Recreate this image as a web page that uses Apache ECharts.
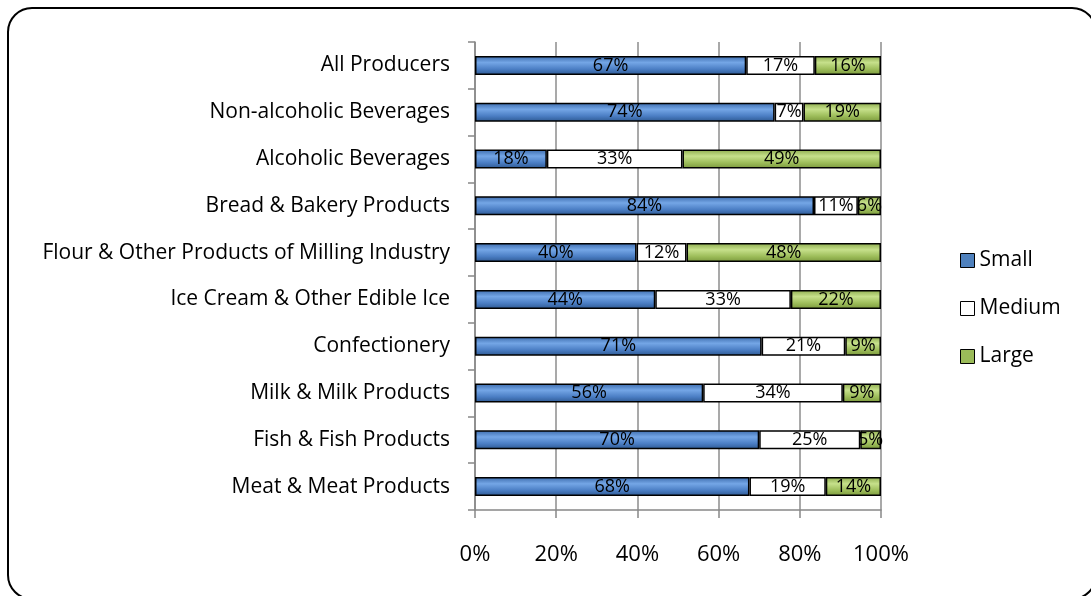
<!DOCTYPE html>
<html>
<head>
<meta charset="utf-8">
<script src="https://cdn.jsdelivr.net/npm/echarts@6/dist/echarts.min.js"></script>
<style>
  html, body { margin: 0; padding: 0; background: #fff; }
  #chart { width: 1091px; height: 596px; }
</style>
</head>
<body>
<div id="chart"></div>
<script>
// Producer groups, top to bottom
const categories = [
  'All Producers',
  'Non-alcoholic Beverages',
  'Alcoholic Beverages',
  'Bread & Bakery Products',
  'Flour & Other Products of Milling Industry',
  'Ice Cream & Other Edible Ice',
  'Confectionery',
  'Milk & Milk Products',
  'Fish & Fish Products',
  'Meat & Meat Products'
];

// Share of producers by size (%)
const small  = [66.8, 73.8, 17.7, 83.5, 39.8, 44.4, 70.6, 56.2, 70.0, 67.6];
const medium = [16.9,  7.1, 33.4, 10.8, 12.3, 33.4, 20.6, 34.4, 24.9, 18.8];
const large  = [16.3, 19.1, 48.9,  5.7, 47.9, 22.2,  8.8,  9.4,  5.1, 13.6];

const xTicks = [0, 20, 40, 60, 80, 100];

const FONT = '"Open Sans", "Noto Sans", sans-serif';

function grad(c0, c1, c2, c3) {
  return new echarts.graphic.LinearGradient(0, 0, 0, 1, [
    { offset: 0, color: c0 },
    { offset: 0.35, color: c1 },
    { offset: 0.7, color: c2 },
    { offset: 1, color: c3 }
  ]);
}

const segLabel = {
  show: true,
  position: 'inside',
  color: '#000',
  fontFamily: FONT,
  fontSize: 18,
  formatter: p => Math.round(p.value) + '%'
};

const chart = echarts.init(document.getElementById('chart'), null, { renderer: 'canvas' });

chart.setOption({
  animation: false,
  backgroundColor: '#fff',
  graphic: [{
    type: 'rect',
    shape: { x: 8, y: 8, width: 1088, height: 591, r: 24 },
    style: { fill: 'none', stroke: '#000', lineWidth: 2 },
    z: 100
  }],
  grid: { left: 475, right: 210, top: 42, bottom: 86, containLabel: false },
  legend: {
    orient: 'vertical',
    left: 955,
    top: 245,
    itemWidth: 14,
    itemHeight: 14,
    itemGap: 27,
    icon: 'rect',
    textStyle: { fontFamily: FONT, fontSize: 21, color: '#000', padding: [0, 0, 0, 0] },
    data: [
      { name: 'Small',  itemStyle: { color: '#4F81BD', borderColor: '#000', borderWidth: 1 } },
      { name: 'Medium', itemStyle: { color: '#FFFFFF', borderColor: '#000', borderWidth: 1 } },
      { name: 'Large',  itemStyle: { color: '#9BBB59', borderColor: '#000', borderWidth: 1 } }
    ]
  },
  xAxis: {
    type: 'value',
    min: 0,
    max: 100,
    interval: 20,
    axisLine: { show: true, lineStyle: { color: '#888', width: 1.5 } },
    axisTick: { show: true, length: 8, lineStyle: { color: '#888', width: 1.5 } },
    splitLine: { show: true, lineStyle: { color: '#8c8c8c', width: 1.5 } },
    axisLabel: {
      margin: 34,
      fontFamily: FONT,
      fontSize: 22,
      color: '#000',
      formatter: v => (xTicks.includes(v) ? v + '%' : '')
    }
  },
  yAxis: {
    type: 'category',
    inverse: true,
    data: categories,
    axisLine: { show: true, lineStyle: { color: '#888', width: 1.5 } },
    axisTick: { show: true, length: 7, alignWithLabel: false, lineStyle: { color: '#888', width: 1.5 } },
    axisLabel: { margin: 25, fontFamily: FONT, fontSize: 21, color: '#000', padding: [5, 0, 0, 0] }
  },
  series: [
    {
      name: 'Small', type: 'bar', stack: 'size', barWidth: 19, data: small,
      itemStyle: { color: grad('#3b6aab', '#74a6e6', '#4b7ec4', '#2d5891'), borderColor: '#000', borderWidth: 1.5 },
      label: segLabel
    },
    {
      name: 'Medium', type: 'bar', stack: 'size', barWidth: 19, data: medium,
      itemStyle: { color: '#fff', borderColor: '#000', borderWidth: 1.5 },
      label: segLabel
    },
    {
      name: 'Large', type: 'bar', stack: 'size', barWidth: 19, data: large,
      itemStyle: { color: grad('#8cab4c', '#c6e08b', '#9dbd5a', '#7a983c'), borderColor: '#000', borderWidth: 1.5 },
      label: segLabel
    }
  ]
});
</script>
</body>
</html>
